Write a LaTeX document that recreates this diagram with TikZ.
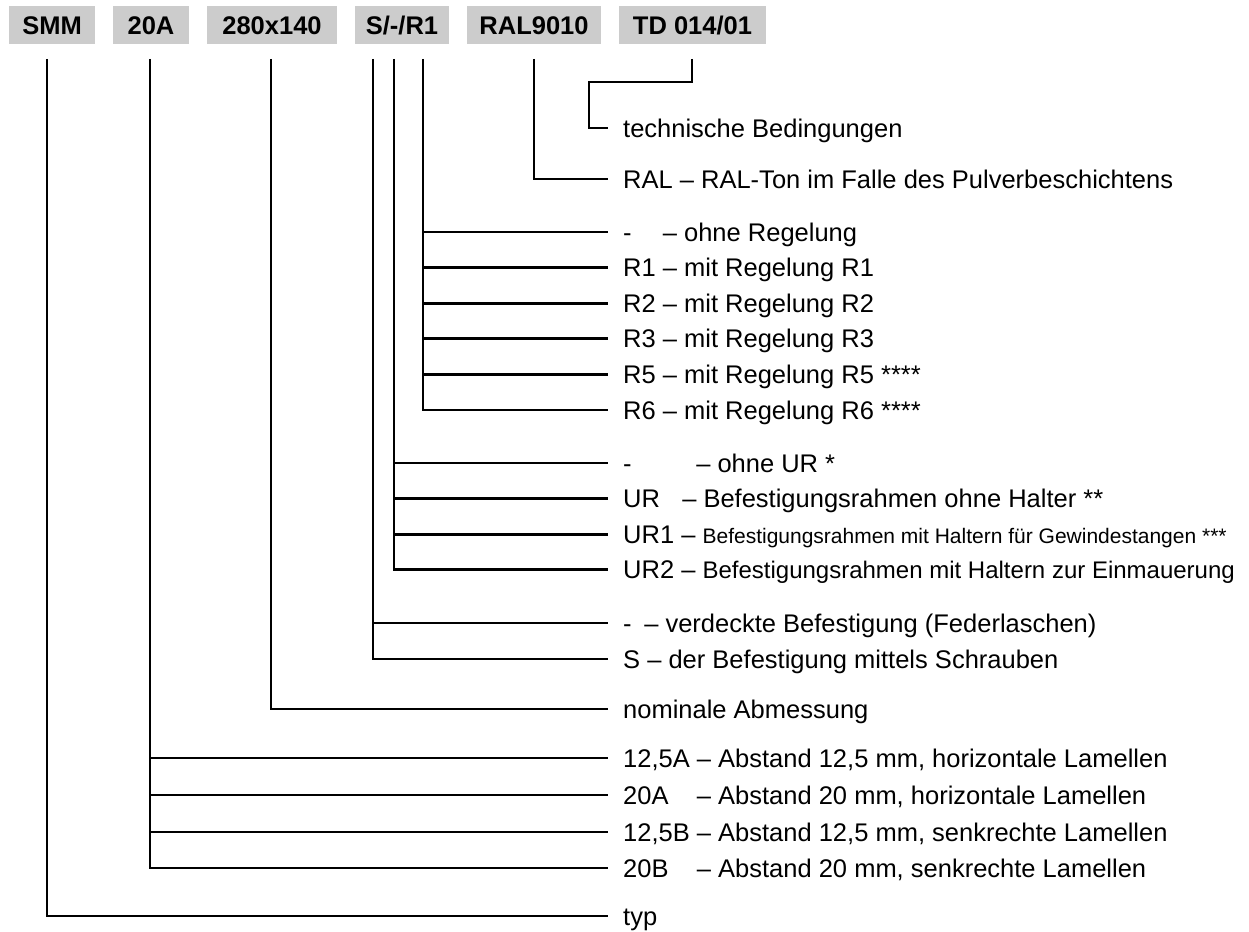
\documentclass[tikz,border=0pt]{standalone}
\usepackage{fontspec}
\setmainfont{Liberation Sans}
\definecolor{hdrgray}{RGB}{204,204,204}
\begin{document}
\begin{tikzpicture}[x=1pt,y=-1pt,
  hdr/.style={fill=hdrgray, inner sep=0pt, minimum height=38pt, text height=18.3pt, text depth=0pt,
              font=\fontsize{25.5}{30}\selectfont\bfseries},
  lbl/.style={anchor=west, inner xsep=15pt, inner ysep=0pt, text height=18.3pt, text depth=0pt,
              font=\fontsize{25.5}{30}\selectfont},
  conn/.style={line width=2.8pt}]
\useasboundingbox (0,0) rectangle (1249,931);

% header boxes
\node[hdr, minimum width=86pt]  (hSMM) at (52,25)    {SMM};
\node[hdr, minimum width=76pt]  (h20A) at (151,25)   {20A};
\node[hdr, minimum width=130pt] (hdim) at (272,25)   {280x140};
\node[hdr, minimum width=94pt]  (hS)   at (402,25)   {S/-/R1};
\node[hdr, minimum width=134pt] (hRAL) at (534,25)   {RAL9010};
\node[hdr, minimum width=147pt] (hTD)  at (692.5,25) {TD 014/01};

% line tops
\coordinate (tSMM) at (47,59);
\coordinate (t20A) at (150,59);
\coordinate (tdim) at (271,59);
\coordinate (tS)   at (373,59);
\coordinate (tUR)  at (394,59);
\coordinate (tR)   at (423,59);
\coordinate (tRAL) at (534,59);
\coordinate (tTD)  at (692,59);
\coordinate (tdc)  at (589,82);

% labels
\node[lbl] (tech) at (608,128) {technische Bedingungen};
\node[lbl] (ral)  at (608,179) {RAL – RAL-Ton im Falle des Pulverbeschichtens};

\node[lbl] (r0) at (608,232)   {\rlap{-}\phantom{R1} – ohne Regelung};
\node[lbl] (r1) at (608,267.6) {R1 – mit Regelung R1};
\node[lbl] (r2) at (608,303.2) {R2 – mit Regelung R2};
\node[lbl] (r3) at (608,338.8) {R3 – mit Regelung R3};
\node[lbl] (r5) at (608,374.4) {R5 – mit Regelung R5 ****};
\node[lbl] (r6) at (608,410)   {R6 – mit Regelung R6 ****};

\node[lbl] (u0) at (608,463)   {\makebox[66pt][l]{-} – ohne UR *};
\node[lbl] (u1) at (608,498.6) {\makebox[52pt][l]{UR} – Befestigungsrahmen ohne Halter **};
\node[lbl] (u2) at (608,534.2) {UR1 – {\fontsize{21}{26}\selectfont Befestigungsrahmen mit Haltern für Gewindestangen ***}};
\node[lbl] (u3) at (608,569.8) {UR2 – {\fontsize{24}{28}\selectfont Befestigungsrahmen mit Haltern zur Einmauerung}};

\node[lbl] (s0) at (608,623) {\makebox[14pt][l]{-} – verdeckte Befestigung (Federlaschen)};
\node[lbl] (s1) at (608,659) {S – der Befestigung mittels Schrauben};

\node[lbl] (dim) at (608,709) {nominale Abmessung};

\node[lbl] (a1) at (608,758) {12,5A – Abstand 12,5 mm, horizontale Lamellen};
\node[lbl] (a2) at (608,795) {\rlap{20A}\phantom{12,5A} – Abstand 20 mm, horizontale Lamellen};
\node[lbl] (a3) at (608,832) {12,5B – Abstand 12,5 mm, senkrechte Lamellen};
\node[lbl] (a4) at (608,868) {\rlap{20B}\phantom{12,5A} – Abstand 20 mm, senkrechte Lamellen};

\node[lbl] (typ) at (608,916) {typ};

% connectors
\draw[conn] (tSMM) |- (typ.west);
\draw[conn] (t20A) |- (a4.west);
\foreach \n in {a1,a2,a3} \draw[conn] (t20A |- \n.west) -- (\n.west);
\draw[conn] (tdim) |- (dim.west);
\draw[conn] (tS) |- (s1.west);
\draw[conn] (tS |- s0.west) -- (s0.west);
\draw[conn] (tUR) |- (u3.west);
\foreach \n in {u0,u1,u2} \draw[conn] (tUR |- \n.west) -- (\n.west);
\draw[conn] (tR) |- (r6.west);
\foreach \n in {r0,r1,r2,r3,r5} \draw[conn] (tR |- \n.west) -- (\n.west);
\draw[conn] (tRAL) |- (ral.west);
\draw[conn] (tTD) |- (tdc) |- (tech.west);
\end{tikzpicture}
\end{document}
